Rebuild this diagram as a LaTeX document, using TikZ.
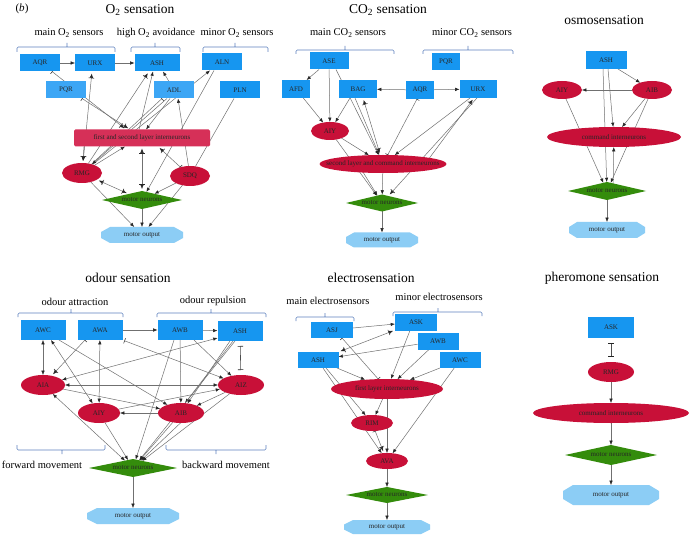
\documentclass[tikz,border=0pt]{standalone}
\usepackage{fontspec}
\setmainfont{Liberation Serif}
\usetikzlibrary{arrows.meta,shapes.geometric,backgrounds}
\definecolor{sblue}{RGB}{22,150,240}
\definecolor{sblueL}{RGB}{60,166,245}
\definecolor{nred}{RGB}{200,16,56}
\definecolor{nredR}{RGB}{214,48,88}
\definecolor{mgreen}{RGB}{52,140,12}
\definecolor{mout}{RGB}{140,205,245}
\definecolor{egray}{RGB}{112,112,112}
\definecolor{brk}{RGB}{95,130,190}
\newcommand{\zt}[1]{\makebox[0pt]{#1}}
\newcommand{\octa}[3]{\fill[mout] ([xshift=#2]#1.north west) -- ([xshift=-#2]#1.north east) -- ([yshift=-#3]#1.north east) -- ([yshift=#3]#1.south east) -- ([xshift=-#2]#1.south east) -- ([xshift=#2]#1.south west) -- ([yshift=#3]#1.south west) -- ([yshift=-#3]#1.north west) -- cycle;}
\tikzset{
 myL/.tip={Latex[length=4.3pt,width=3.4pt,color=black!85]},
 myLs/.tip={Latex[length=4.3pt,width=3.4pt,sep=2pt,color=black!85]},
 myT/.tip={Bar[width=5.5pt,color=black!85]},
 lbl/.style={font=\fontsize{7}{8}\selectfont, text=black!85, inner sep=0pt, outer sep=0pt},
 box/.style={lbl, rectangle, fill=sblue, minimum width=40pt, minimum height=17pt},
 lbox/.style={box, fill=sblueL},
 ell/.style={lbl, ellipse, fill=nred, minimum width=40pt, minimum height=20pt},
 dia/.style={lbl, diamond, fill=mgreen, aspect=5},
 mo/.style={lbl, rectangle},
 ttl/.style={font=\fontsize{13.5}{15}\selectfont, inner sep=0pt},
 sub/.style={font=\fontsize{10.5}{12}\selectfont, inner sep=0pt},
 ed/.style={draw=egray, line width=0.5pt},
 ex/.style={ed, -{myL[]}},
 exb/.style={ed, -{myT[]myLs[]}},
 bb/.style={ed, {myLs[]myT[]}-{myT[]myLs[]}},
 tb/.style={ed, {myT[]}-{myT[]myLs[]}},
 bi/.style={ed, {myL[]}-{myL[]}},
 tt/.style={ed, {myT[]}-{myT[]}},
 te/.style={ed, -{myT[]}},
 ii/.style={draw=black!70, line width=0.6pt, {myT[]}-{myT[]}, shorten <=5pt, shorten >=5pt},
 brkt/.style={draw=brk, line width=0.6pt, rounded corners=1.2pt},
}
\begin{document}
\begin{tikzpicture}[x=1pt,y=-1pt]
\useasboundingbox (0,0) rectangle (690,537);

%----------- titles
\node[font=\fontsize{11}{12}\selectfont, inner sep=0pt] (pb) at (22,9) {(\textit{b})};
\node[ttl] (tA) at (140,10) {O\textsubscript{2} sensation};
\node[ttl] (tB) at (388,10) {CO\textsubscript{2} sensation};
\node[ttl] (tC) at (604,20) {osmosensation};
\node[ttl] (tD) at (128,278) {odour sensation};
\node[ttl] (tE) at (371,278) {electrosensation};
\node[ttl] (tF) at (602,278) {pheromone sensation};

\node[sub] (sA1) at (69,33) {main O\textsubscript{2} sensors};
\node[sub] (sA2) at (156,33) {high O\textsubscript{2} avoidance};
\node[sub] (sA3) at (237,33) {minor O\textsubscript{2} sensors};
\node[sub] (sB1) at (348,33) {main CO\textsubscript{2} sensors};
\node[sub] (sB2) at (472,33) {minor CO\textsubscript{2} sensors};
\node[sub] (sD1) at (75,302) {odour attraction};
\node[sub] (sD2) at (213,301) {odour repulsion};
\node[sub] (sD3) at (42,465) {forward movement};
\node[sub] (sD4) at (226,465) {backward movement};
\node[sub] (sE1) at (328,301) {main electrosensors};
\node[sub] (sE2) at (439,297) {minor electrosensors};

%----------- brackets
\draw[brkt] (17,52) -- (17,47) -- (115,47) -- (115,52) (67,47) -- (67,43);
\draw[brkt] (131,52) -- (131,47) -- (180,47) -- (180,52) (155,47) -- (155,43);
\draw[brkt] (203,52) -- (203,47) -- (268,47) -- (268,52) (235,47) -- (235,43);
\draw[brkt] (296,54) -- (296,50) -- (394,50) -- (394,54) (345,50) -- (345,46);
\draw[brkt] (423,54) -- (423,50) -- (513,50) -- (513,54) (468,50) -- (468,46);
\draw[brkt] (18,317) -- (18,313) -- (123,313) -- (123,317) (71,313) -- (71,309);
\draw[brkt] (157,317) -- (157,313) -- (266,313) -- (266,317) (211,313) -- (211,309);
\draw[brkt] (17,445) -- (17,450) -- (105,450) -- (105,445) (62,450) -- (62,454);
\draw[brkt] (166,445) -- (166,450) -- (266,450) -- (266,445) (216,450) -- (216,454);
\draw[brkt] (296,321) -- (296,317) -- (354,317) -- (354,321) (325,317) -- (325,313);
\draw[brkt] (393,316) -- (393,312) -- (482,312) -- (482,316) (438,312) -- (438,308);

%----------- O2 nodes
\node[box] (aAQR) at (40,63) {AQR};
\node[box] (aURX) at (95,63) {URX};
\node[box, minimum width=45pt] (aASH) at (157,63) {ASH};
\node[box] (aALN) at (222,62) {ALN};
\node[lbox] (aPQR) at (66,90) {PQR};
\node[lbox] (aADL) at (174,90) {ADL};
\node[box] (aPLN) at (240,90) {PLN};
\node[lbl, rectangle, rounded corners=1.5pt, fill=nredR, minimum width=136pt, minimum height=17pt] (aINT) at (142,138) {\zt{first and second layer interneurons}};
\node[ell] (aRMG) at (82,173) {RMG};
\node[ell] (aSDQ) at (190,176) {SDQ};
\node[dia, minimum width=80pt, minimum height=18pt] (aMN) at (142,200) {\zt{motor neurons}};
\node[mo, minimum width=82pt, minimum height=16pt] (aMO) at (142,235) {\zt{motor output}};

%----------- CO2 nodes
\node[box, minimum width=39pt] (bASE) at (329,61) {ASE};
\node[box, minimum width=28pt] (bPQR) at (446,62) {PQR};
\node[box, minimum width=28pt, minimum height=18pt] (bAFD) at (296,89) {AFD};
\node[box, minimum width=38pt, minimum height=18pt] (bBAG) at (358,89) {BAG};
\node[box, minimum width=28pt, minimum height=18pt] (bAQR) at (420,90) {AQR};
\node[box, minimum width=37pt, minimum height=18pt] (bURX) at (478,89) {URX};
\node[ell, minimum width=38pt, minimum height=18pt] (bAIY) at (330,131) {AIY};
\node[ell, minimum width=127pt, minimum height=18pt] (bINT) at (383,164) {\zt{second layer and command interneurons}};
\node[dia, minimum width=72pt, minimum height=17pt] (bMN) at (382,203) {\zt{motor neurons}};
\node[mo, minimum width=72pt, minimum height=15pt] (bMO) at (382,240) {\zt{motor output}};

%----------- osmo nodes
\node[box, minimum width=41pt, minimum height=18pt] (cASH) at (606,60) {ASH};
\node[ell, minimum height=18pt] (cAIY) at (562,90) {AIY};
\node[ell, minimum height=18pt] (cAIB) at (652,90) {AIB};
\node[ell, minimum width=134pt, minimum height=20pt] (cCMD) at (614,137) {\zt{command interneurons}};
\node[dia, minimum width=78pt, minimum height=18pt] (cMN) at (607,191) {\zt{motor neurons}};
\node[mo, minimum width=76pt, minimum height=16pt] (cMO) at (607,230) {\zt{motor output}};

%----------- odour nodes
\node[box, minimum width=45pt, minimum height=20pt] (dAWC) at (43,330) {AWC};
\node[box, minimum width=45pt, minimum height=20pt] (dAWA) at (100,330) {AWA};
\node[box, minimum width=45pt, minimum height=20pt] (dAWB) at (180,330) {AWB};
\node[box, minimum width=45pt, minimum height=20pt] (dASH) at (240,331) {ASH};
\node[ell, minimum width=44pt] (dAIA) at (43,385) {AIA};
\node[ell, minimum width=46pt] (dAIZ) at (241,385) {AIZ};
\node[ell, minimum width=42pt] (dAIY) at (99,413) {AIY};
\node[ell, minimum width=46pt] (dAIB) at (181,413) {AIB};
\node[dia, minimum width=88pt, minimum height=18pt] (dMN) at (133,468) {\zt{motor neurons}};
\node[mo, minimum width=92pt, minimum height=16pt] (dMO) at (133,516) {\zt{motor output}};

%----------- electro nodes
\node[box, minimum width=42pt, minimum height=16pt] (eASJ) at (332,330) {ASJ};
\node[box, minimum width=42pt, minimum height=17pt] (eASK) at (416,322) {ASK};
\node[box, minimum width=41pt, minimum height=17pt] (eAWB) at (438,341) {AWB};
\node[box, minimum width=41pt, minimum height=16pt] (eASH) at (318,360) {ASH};
\node[box, minimum width=41pt, minimum height=16pt] (eAWC) at (460,360) {AWC};
\node[ell, minimum width=112pt, minimum height=20pt] (eINT) at (387,389) {\zt{first layer interneurons}};
\node[ell, minimum width=42pt, minimum height=16pt] (eRIM) at (372,423) {RIM};
\node[ell, minimum width=42pt, minimum height=16pt] (eAVA) at (387,461) {AVA};
\node[dia, minimum width=82pt, minimum height=16pt] (eMN) at (387,495) {\zt{motor neurons}};
\node[mo, minimum width=86pt, minimum height=14pt] (eMO) at (387,527) {\zt{motor output}};

%----------- pheromone nodes
\node[box, minimum width=46pt, minimum height=21pt] (fASK) at (611,327) {ASK};
\node[ell, minimum width=46pt, minimum height=20pt] (fRMG) at (611,372) {RMG};
\node[ell, minimum width=156pt, minimum height=20pt] (fCMD) at (611,413) {\zt{command interneurons}};
\node[dia, minimum width=92pt, minimum height=20pt] (fMN) at (611,455) {\zt{motor neurons}};
\node[mo, minimum width=96pt, minimum height=20pt] (fMO) at (611,495) {\zt{motor output}};

\begin{scope}[on background layer]
\fill[white] (0,0) rectangle (690,537);
% O2 edges
\draw[ex] (aAQR) -- (aURX);
\draw[ex] (aURX) -- (aASH);
\draw[tb] ([xshift=12pt]aAQR.south) -- ([xshift=-16pt]aINT.north);
\draw[tb] ([xshift=16pt]aPQR.south) -- ([xshift=-12pt]aINT.north);
\draw[bb] ([xshift=-3pt]aURX.south) -- (aRMG);
\draw[exb] (aRMG) -- ([xshift=-8pt]aASH.south);
\draw[te] (aRMG) -- ([xshift=-12pt]aADL.south);
\draw[ex] (aRMG) -- ([xshift=-12pt]aALN.south);
\draw[ex] ([xshift=-3pt]aINT.north) -- ([xshift=-4pt]aASH.south);
\draw[ex] ([xshift=-5pt]aADL.north) -- ([xshift=6pt]aASH.south);
\draw[ex] ([xshift=-4pt]aADL.south) -- ([xshift=4pt]aINT.north);
\draw[ex] ([xshift=-7pt]aADL.south) -- (aRMG);
\draw[ex] (aRMG) -- ([xshift=-17pt]aINT.south);
\draw[exb] ([xshift=-58pt]aINT.south) -- (aRMG);
\draw[ex] (aSDQ) -- ([xshift=4pt]aADL.south);
\draw[ex] ([xshift=-8pt]aALN.south) -- (aMN);
\draw[ed] ([xshift=-6pt]aPLN.south) -- (aSDQ);
\draw[tb] (aSDQ) -- ([xshift=16pt]aINT.south);
\draw[bb] (aINT) -- (aMN);
\draw[bb] (aRMG) -- (aMN);
\draw[ex] (aRMG) -- (aMO);
\draw[ex] (aSDQ) -- (aMN);
\draw[ex] (aSDQ) -- (aMO);
\draw[ex] (aMN) -- (aMO);
% CO2 edges
\draw[ex] ([xshift=-10pt]bASE.south) -- (bAFD);
\draw[ex] (bASE) -- (bAIY);
\draw[ex] ([xshift=7pt]bASE.south) -- (bINT);
\draw[ex] (bAFD) -- (bAIY);
\draw[ex] ([xshift=-8pt]bBAG.south) -- (bAIY);
\draw[ex] ([xshift=-3pt]bBAG.south) -- (bINT);
\draw[bb] ([xshift=5pt]bBAG.south) -- (bINT);
\draw[ex] (bAQR) -- (bBAG);
\draw[ex] (bAQR) -- (bURX);
\draw[tt] ([xshift=-3pt]bAQR.south) -- (bINT);
\draw[ex] ([xshift=-8pt]bURX.south) -- (bINT);
\draw[exb] ([xshift=42pt]bINT.center) -- ([xshift=-4pt]bURX.south);
\draw[exb] ([xshift=-1pt]bURX.south) -- (bMN);
\draw[ex] (bAIY) -- (bINT);
\draw[ex] (bAIY) -- (bMN);
\draw[ex] ([xshift=-25pt]bINT.center) -- (bMN);
\draw[ex] (bINT) -- (bMN);
\draw[ex] (bMN) -- (bMO);
% osmo edges
\draw[ex] ([xshift=12pt]cASH.south) -- (cAIB);
\draw[ex] (cAIB) -- (cAIY);
\draw[ex] ([xshift=2pt]cASH.south) -- (cCMD);
\draw[ex] ([xshift=-3pt]cASH.south) -- (cMN);
\draw[ex] (cAIB) -- (cCMD);
\draw[ex] (cAIB) -- (cMN);
\draw[ex] (cAIY) -- (cMN);
\draw[ex] ([xshift=6pt]cMN.center) -- (cCMD);
\draw[ex] (cMN) -- (cMO);
% odour edges
\draw[bi] (dAWC) -- (dAIA);
\draw[tb] ([xshift=-15pt]dAWA.south) -- (dAIA);
\draw[bi] ([xshift=8pt]dAWC.south) -- (dAIY);
\draw[bi] (dAWA) -- (dAIY);
\draw[ex] ([xshift=16pt]dAWC.south) -- (dAIB);
\draw[ex] (dAWA) -- (dAWB);
\draw[ed, {myT[]}-{myL[]}, shorten <=2pt] (dAWA.south east) -- (dAIZ);
\draw[ex] (dAWB) -- (dASH);
\draw[bi] (dAIA) -- ([yshift=3pt]dASH.south west);
\draw[bi] (dAIZ) -- (dAIA);
\draw[ex] (dAWB) -- (dAIB);
\draw[ex] ([xshift=14pt]dAWB.south) -- (dAIZ);
\draw[ex] ([xshift=-6pt]dAWB.south) -- (dMN);
\draw[ex] ([xshift=-10pt]dASH.south) -- (dAIB);
\draw[ex] ([xshift=-7pt]dASH.south) -- ([xshift=4pt]dAIB.north);
\draw[ex] ([xshift=-5pt]dASH.south) -- (dMN);
\draw[ii] (dASH) -- (dAIZ);
\draw[ex] (dAIA) -- (dAIB);
\draw[ex] (dAIY) -- (dAIZ);
\draw[ex] (dAIB) -- (dAIY);
\draw[ex] (dAIZ) -- (dAIB);
\draw[bi] (dAIA) -- (dMN);
\draw[ex] (dAIY) -- (dMN);
\draw[ex] (dAIB) -- (dMN);
\draw[ex] ([xshift=10pt]dAIB.center) -- (dMN);
\draw[ex] (dAIZ) -- (dMN);
\draw[ex] (dMN) -- (dMO);
% electro edges
\draw[ex] (eASJ) -- (eASK);
\draw[bb] (eASH.north east) -- (eASK);
\draw[tt] ([xshift=10pt]eASJ.south) -- (eINT);
\draw[ex] (eAWB) -- (eASH);
\draw[ex] (eASH) -- (eINT);
\draw[ex] ([xshift=8pt]eASH.south) -- (eRIM);
\draw[ex] ([xshift=5pt]eASH.south) -- (eAVA);
\draw[ex] ([xshift=-6pt]eASK.south) -- (eINT);
\draw[ex] (eAWB) -- (eINT);
\draw[ex] (eAWC) -- (eINT);
\draw[ex] (eAWC) -- (eAVA);
\draw[ex] (eINT) -- (eRIM);
\draw[ex] (eINT) -- (eAVA);
\draw[tb] (eRIM) -- (eAVA);
\draw[ex] (eAVA) -- (eMN);
\draw[ex] (eMN) -- (eMO);
% pheromone edges
\draw[ii] (fASK) -- (fRMG);
\draw[ex] (fRMG) -- (fCMD);
\draw[ex] (fCMD) -- (fMN);
\draw[ex] (fMN) -- (fMO);
% motor output octagons
\octa{aMO}{9pt}{5pt}
\octa{bMO}{8pt}{4.5pt}
\octa{cMO}{8pt}{5pt}
\octa{dMO}{10pt}{5pt}
\octa{eMO}{9pt}{4.5pt}
\octa{fMO}{10pt}{6pt}
\end{scope}
\end{tikzpicture}
\end{document}
